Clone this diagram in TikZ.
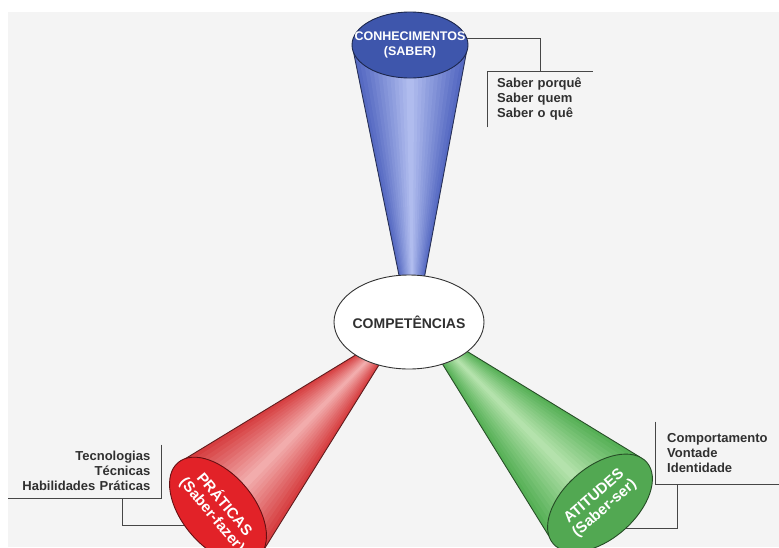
\documentclass[tikz,border=0pt]{standalone}
\usepackage{fontspec}
\setmainfont{Liberation Sans}
\usetikzlibrary{shapes.geometric,calc}

\definecolor{pagegray}{RGB}{244,244,244}
\definecolor{blfill}{RGB}{62,86,172}
\definecolor{blbody}{RGB}{86,106,194}
\definecolor{bllight}{RGB}{176,188,238}
\definecolor{rdfill}{RGB}{226,34,40}
\definecolor{rdbody}{RGB}{214,62,64}
\definecolor{rdlight}{RGB}{242,172,172}
\definecolor{grfill}{RGB}{82,168,82}
\definecolor{grbody}{RGB}{86,176,86}
\definecolor{grlight}{RGB}{180,226,172}
\definecolor{notetext}{RGB}{48,48,48}
\definecolor{leadgray}{RGB}{70,70,70}

\pgfdeclarelayer{bg}
\pgfdeclarelayer{cones}
\pgfsetlayers{bg,cones,main}

\begin{document}
\begin{tikzpicture}[
    x=1pt, y=-1pt,
    conend/.style={ellipse, line width=0.9pt, text=white, inner sep=0pt, outer sep=0pt,
                font=\fontsize{15}{16}\selectfont\bfseries,
                minimum width=124pt, minimum height=72pt},
    notebox/.style={font=\fontsize{13}{15}\selectfont\bfseries, text=notetext,
                 inner ysep=0pt},
    lead/.style={draw=leadgray, line width=0.8pt}
]
\useasboundingbox (0,0) rectangle (779,547);

% the three ends and the centre
\node[conend, fill=blfill, draw=blfill!45!black, minimum width=116pt, minimum height=66pt,
      font=\fontsize{12.5}{15}\selectfont\bfseries]
    (con) at (410,45) {\makebox[0pt]{\begin{tabular}{@{}c@{}}CONHECIMENTOS\\(SABER)\end{tabular}}};
\node[conend, fill=rdfill, draw=rdfill!45!black, rotate=-50]
    (prat) at (218,510) {\makebox[0pt]{\begin{tabular}{@{}c@{}}PRÁTICAS\\(Saber-fazer)\end{tabular}}};
\node[conend, fill=grfill, draw=grfill!45!black, rotate=41]
    (atit) at (600,503) {\makebox[0pt]{\begin{tabular}{@{}c@{}}ATITUDES\\(Saber-ser)\end{tabular}}};
\node[ellipse, draw=black!80, fill=white, line width=0.9pt, inner sep=0pt,
      minimum width=150pt, minimum height=94pt, text=notetext,
      font=\fontsize{14}{16}\selectfont\bfseries]
    (comp) at (409,322) {\makebox[0pt]{COMPETÊNCIAS}};

% narrow ends, hidden behind the centre
\coordinate (con-l) at (402,290);
\coordinate (con-r) at (422,290);
\coordinate (prat-l) at (372,345);
\coordinate (prat-r) at (387,352);
\coordinate (atit-l) at (435,352);
\coordinate (atit-r) at (455,344);

\begin{pgfonlayer}{bg}
\fill[white] (0,0) rectangle (779,547);
\fill[pagegray] (8,12) rectangle (779,547);
\end{pgfonlayer}

\begin{pgfonlayer}{cones}
\foreach \e/\al/\ar/\cb/\cl in {con/188/352/blbody/bllight,
                                prat/172/8/rdbody/rdlight,
                                atit/172/8/grbody/grlight} {
  \fill[\cb] (\e.\al) -- (\e-l) -- (\e-r) -- (\e.\ar) -- cycle;
  \foreach \i in {1,...,12} {
    \pgfmathsetmacro\s{\i/26}
    \pgfmathtruncatemacro\m{\i*100/12}
    \fill[\cl!\m!\cb] ($(\e.\al)!\s!(\e.\ar)$) -- ($(\e-l)!\s!(\e-r)$)
        -- ($(\e-l)!{1-\s}!(\e-r)$) -- ($(\e.\al)!{1-\s}!(\e.\ar)$) -- cycle;
  }
  \draw[\cb!45!black, line width=0.9pt] (\e-l) -- (\e.\al) (\e-r) -- (\e.\ar);
}
\end{pgfonlayer}

% notes
\node[notebox, anchor=north west, text width=86pt, inner xsep=10pt, minimum height=56pt,
      align=left] (sab) at (487,71) {Saber porquê\\Saber quem\\Saber o quê};
\node[notebox, anchor=south east, text width=132pt, inner xsep=10.5pt, minimum height=53pt,
      align=right] (tec) at (161,498) {Tecnologias\\Técnicas\\Habilidades Práticas};
\node[notebox, anchor=south west, text width=100pt, inner xsep=12pt, minimum height=62pt,
      align=left] (cmp) at (655,484) {Comportamento\\Vontade\\Identidade};

\draw[lead] (sab.south west) -- (sab.north west) -- (sab.north east);
\draw[lead] (tec.north east) -- (tec.south east) -- (tec.south west);
\draw[lead] (cmp.north west) -- (cmp.south west) -- (cmp.south east);

\draw[lead] (con.7) -| (sab.north);
\draw[lead] ([xshift=-39pt]tec.south east) |- (prat.254);
\draw[lead] ([xshift=22pt]cmp.south west) |- (atit.275);
\end{tikzpicture}
\end{document}
